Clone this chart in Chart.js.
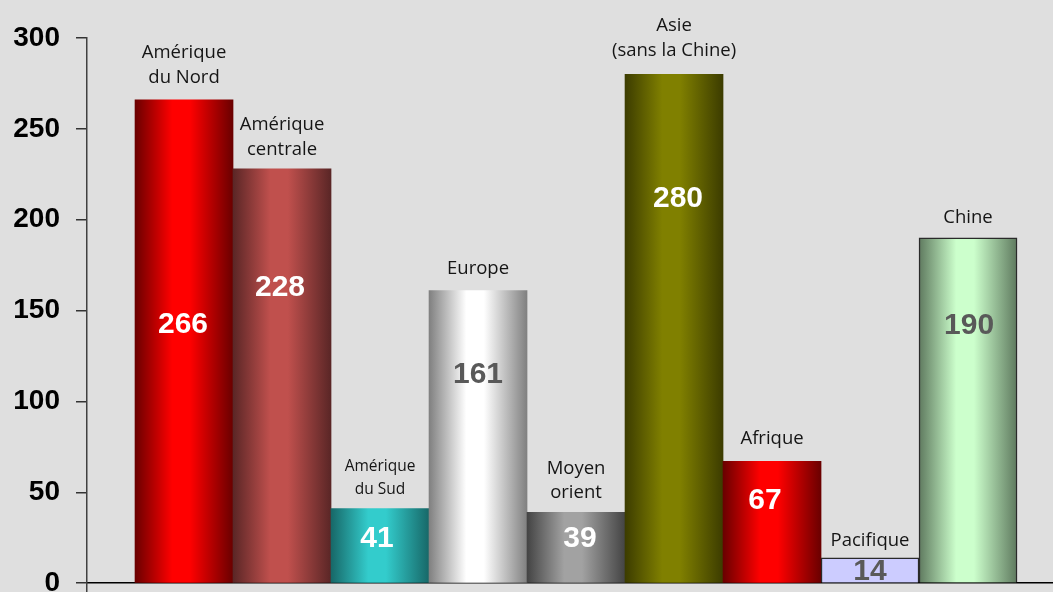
<!DOCTYPE html>
<html>
<head>
<meta charset="utf-8">
<script src="https://cdn.jsdelivr.net/npm/chart.js@4/dist/chart.umd.min.js"></script>
<style>
  html, body { margin: 0; padding: 0; background: #dfdfdf; overflow: hidden; width: 1053px; height: 592px; }
  canvas { display: block; }
</style>
</head>
<body>
<canvas id="c" width="1053" height="616"></canvas>
<script>
// ---- data ----
const categories = [
  ["Amérique", "du Nord"],
  ["Amérique", "centrale"],
  ["Amérique", "du Sud"],
  ["Europe"],
  ["Moyen", "orient"],
  ["Asie", "(sans la Chine)"],
  ["Afrique"],
  ["Pacifique"],
  ["Chine"]
];
const values = [266, 228, 41, 161, 39, 280, 67, 14, 190];
const yTickValues = [0, 50, 100, 150, 200, 250, 300];

// ---- styles (kept separate from data) ----
const edgeColors   = ["#6a0000", "#5a2626", "#176868", "#808080", "#444444", "#3c3c00", "#6a0000", "#ccccff", "#5f7a5f"];
const centerColors = ["#ff0000", "#c0504d", "#33cccc", "#ffffff", "#a2a2a2", "#808000", "#ff0000", "#ccccff", "#ccffcc"];
const borderWidths = [0, 0, 0, 0, 0, 0, 0, 1.5, 1.5];
const valueColors  = ["#ffffff", "#ffffff", "#ffffff", "#595959", "#ffffff", "#ffffff", "#ffffff", "#595959", "#595959"];
const valueLabelAt = [143, 163, 25, 115.5, 25, 212, 46, 7, 142]; // label centre, in axis units
const valueLabelDx = [-1, -2, -3, 0, 4, 4, -7, 0, 1];            // px nudge from bar centre
const smallLabel   = [false, false, true, false, false, false, false, false, false];
const labelGap     = [17, 14, 15, 17, 14, 18.5, 17.5, 12, 15]; // px between bar top and last label baseline

const points = values.map((v, i) => ({ x: i + 1, y: v }));

function barGradient(ctx) {
  const chart = ctx.chart;
  const i = ctx.dataIndex;
  const xs = chart.scales.x;
  if (!xs || !chart.chartArea || i === undefined) return centerColors[i] || '#999';
  const unit = xs.getPixelForValue(1) - xs.getPixelForValue(0);
  const cx = xs.getPixelForValue(i + 1);
  const l = cx - unit / 2, r = cx + unit / 2;
  if (!isFinite(l) || !isFinite(r)) return centerColors[i];
  const g = chart.ctx.createLinearGradient(l, 0, r, 0);
  g.addColorStop(0, edgeColors[i]);
  g.addColorStop(0.38, centerColors[i]);
  g.addColorStop(0.56, centerColors[i]);
  g.addColorStop(1, edgeColors[i]);
  return g;
}

const labelsPlugin = {
  id: 'labels',
  afterDatasetsDraw(chart) {
    const ctx = chart.ctx;
    const meta = chart.getDatasetMeta(0);
    const ys = chart.scales.y;
    ctx.save();
    meta.data.forEach((el, i) => {
      // value labels
      ctx.font = 'bold 30px "Liberation Sans", Arial, sans-serif';
      ctx.fillStyle = valueColors[i];
      ctx.textAlign = 'center';
      ctx.textBaseline = 'middle';
      ctx.fillText(String(values[i]), el.x + valueLabelDx[i], ys.getPixelForValue(valueLabelAt[i]) + 1);
      // category labels above the bar
      const lines = categories[i];
      const small = smallLabel[i];
      ctx.font = (small ? '15.5px' : '18.5px') + ' "Open Sans", "Noto Sans", sans-serif';
      ctx.fillStyle = '#151515';
      ctx.textBaseline = 'alphabetic';
      const lh = small ? 22.5 : 24.5;
      const base = el.y - labelGap[i];
      for (let k = 0; k < lines.length; k++) {
        const yy = base - (lines.length - 1 - k) * lh;
        ctx.fillText(lines[k], el.x, yy);
      }
    });
    ctx.restore();
  }
};

new Chart(document.getElementById('c'), {
  type: 'bar',
  data: {
    datasets: [{
      data: points,
      backgroundColor: barGradient,
      borderColor: '#2a2a2a',
      borderWidth: borderWidths,
      borderSkipped: 'bottom',
      barPercentage: 1,
      categoryPercentage: 1
    }]
  },
  options: {
    responsive: false,
    animation: false,
    devicePixelRatio: 1,
    layout: { padding: { top: 38, left: 0, right: 0, bottom: 0 } },
    plugins: { legend: { display: false }, tooltip: { enabled: false } },
    scales: {
      x: {
        type: 'linear',
        offset: false,
        min: 0.01,
        max: 9.867,
        afterBuildTicks(scale) { scale.ticks = [{ value: scale.min }]; },
        afterFit(scale) { scale.height = 20; },
        ticks: { display: false },
        grid: { display: true, offset: false, drawOnChartArea: false, drawTicks: true, tickLength: 20, color: '#404040', lineWidth: 1.5 },
        border: { display: true, color: '#000000', width: 1.5 }
      },
      y: {
        min: 0,
        max: 300,
        afterBuildTicks(scale) { scale.ticks = yTickValues.map(v => ({ value: v })); },
        afterFit(scale) { scale.width = 87; },
        ticks: {
          color: '#000000',
          font: { family: '"Liberation Sans", Arial, sans-serif', size: 28, weight: 'bold' },
          padding: 16
        },
        grid: { display: true, drawOnChartArea: false, drawTicks: true, tickLength: 11, color: '#333333', lineWidth: 1.5 },
        border: { display: true, color: '#404040', width: 1.5 }
      }
    }
  },
  plugins: [labelsPlugin]
});
</script>
</body>
</html>
